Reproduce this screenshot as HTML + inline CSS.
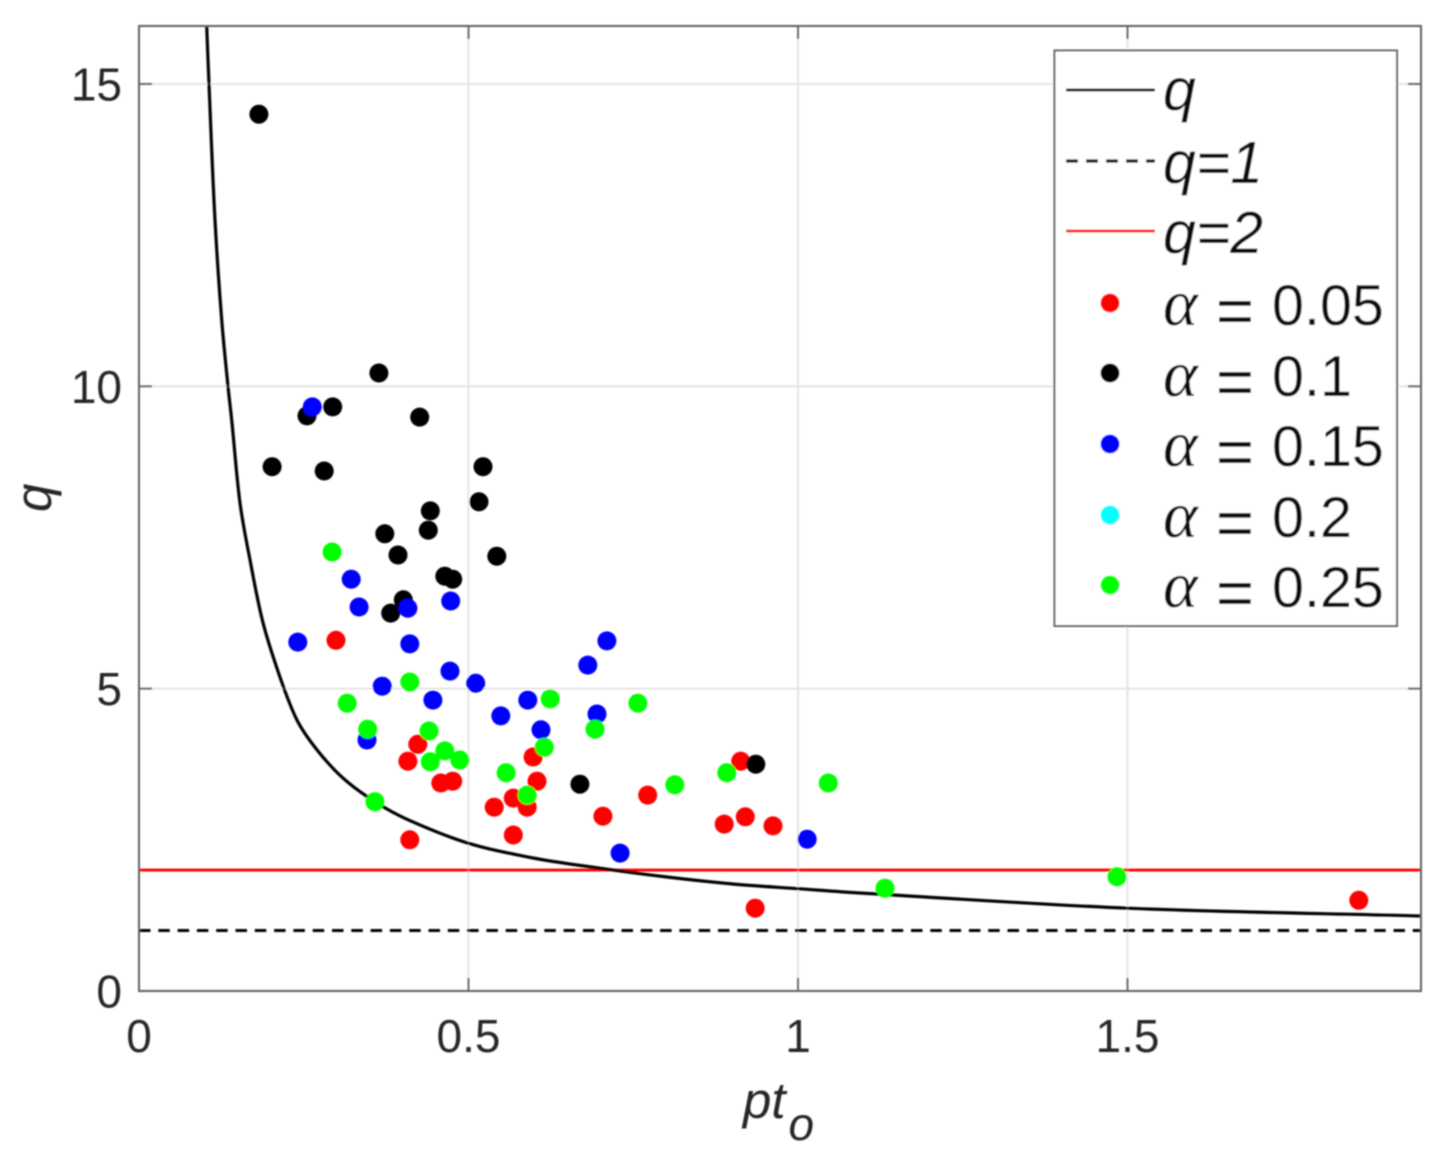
<!DOCTYPE html>
<html lang="en">
<head>
<meta charset="utf-8">
<title>q versus pt_o scatter chart</title>
<style>
  html, body { margin: 0; padding: 0; background: #fff; }
  svg { display: block; }
  .tick-label { font-family: "Liberation Sans", sans-serif; font-size: 46px; fill: #262626; }
  .legend-text { font-family: "Liberation Sans", sans-serif; font-size: 59px; fill: #111; }
  .legend-num { font-family: "Liberation Sans", sans-serif; font-size: 57.5px; fill: #111; }
  .legend-eq { font-family: "Liberation Sans", sans-serif; font-size: 65px; fill: #111; }
  .legend-alpha { font-family: "Liberation Serif", serif; font-style: italic; font-size: 66px; fill: #111; }
  .axis-title { font-family: "Liberation Sans", sans-serif; font-style: italic; font-size: 51px; fill: #262626; }
</style>
</head>
<body>
<svg id="chart" xmlns="http://www.w3.org/2000/svg" width="1451" height="1157" viewBox="0 0 1451 1157">
  <defs>
    <clipPath id="plot-clip"><rect x="139" y="26" width="1282" height="965"></rect></clipPath>
    <filter id="soft" x="-2%" y="-2%" width="104%" height="104%"><feGaussianBlur stdDeviation="0.7"></feGaussianBlur></filter>
  </defs>
  <rect x="0" y="0" width="1451" height="1157" fill="#ffffff"></rect>
  <g filter="url(#soft)">
    <g id="grid"></g>
    <g id="series-lines" clip-path="url(#plot-clip)"></g>
    <g id="points" clip-path="url(#plot-clip)"></g>
    <g id="axes"></g>
    <g id="legend">
      <rect x="1054.5" y="50.5" width="342.5" height="575.5" fill="#ffffff" stroke="#5e5e5e" stroke-width="2"></rect>
      <g>
        <line x1="1066" y1="90" x2="1155" y2="90" stroke="#000" stroke-width="3"></line>
        <text class="legend-text" x="1163" y="110" font-style="italic">q</text>
      </g>
      <g>
        <line x1="1066" y1="161" x2="1155" y2="161" stroke="#000" stroke-width="3.2" stroke-dasharray="12 8"></line>
        <text class="legend-text" x="1163" y="183" font-style="italic">q=1</text>
      </g>
      <g>
        <line x1="1066" y1="231" x2="1155" y2="231" stroke="#ff0000" stroke-width="3"></line>
        <text class="legend-text" x="1163" y="253" font-style="italic">q=2</text>
      </g>
      <g>
        <circle cx="1110" cy="303" r="9.5" fill="#ff0000"></circle>
        <text class="legend-alpha" x="1163" y="325">α</text>
        <text class="legend-eq" x="1216" y="333">=</text>
        <text class="legend-num" x="1272" y="325">0.05</text>
      </g>
      <g>
        <circle cx="1110" cy="373" r="9.5" fill="#000000"></circle>
        <text class="legend-alpha" x="1163" y="396">α</text>
        <text class="legend-eq" x="1216" y="404">=</text>
        <text class="legend-num" x="1272" y="396">0.1</text>
      </g>
      <g>
        <circle cx="1110" cy="444" r="9.5" fill="#0000ff"></circle>
        <text class="legend-alpha" x="1163" y="466">α</text>
        <text class="legend-eq" x="1216" y="474">=</text>
        <text class="legend-num" x="1272" y="466">0.15</text>
      </g>
      <g>
        <circle cx="1110" cy="515" r="9.5" fill="#00ffff"></circle>
        <text class="legend-alpha" x="1163" y="537">α</text>
        <text class="legend-eq" x="1216" y="545">=</text>
        <text class="legend-num" x="1272" y="537">0.2</text>
      </g>
      <g>
        <circle cx="1110" cy="585" r="9.5" fill="#00ff00"></circle>
        <text class="legend-alpha" x="1163" y="607">α</text>
        <text class="legend-eq" x="1216" y="615">=</text>
        <text class="legend-num" x="1272" y="607">0.25</text>
      </g>
    </g>
    <text class="axis-title" transform="translate(51,512) rotate(-90)">q</text>
    <text class="axis-title" x="743" y="1118">pt<tspan font-size="46" dx="3" dy="22">o</tspan></text>
  </g>
</svg>
<script>
var xTicks = [0, 0.5, 1, 1.5];
var xTickLabels = ["0", "0.5", "1", "1.5"];
var yTicks = [0, 5, 10, 15];
var yTickLabels = ["0", "5", "10", "15"];

var curveX = [0.1027, 0.1062, 0.1153, 0.1255, 0.135, 0.1407, 0.1533, 0.1684, 0.1882, 0.214, 0.2398, 0.27, 0.3096, 0.358, 0.4067, 0.4977, 0.598, 0.6995, 0.801, 0.901, 1.003, 1.094, 1.5, 1.945];
var curveQ = [15.96, 15.0, 12.75, 11.1, 10.0, 9.44, 8.07, 7.13, 6.09, 5.19, 4.48, 3.99, 3.52, 3.13, 2.84, 2.45, 2.2, 2.03, 1.885, 1.77, 1.69, 1.62, 1.37, 1.24];

var redX = [0.299, 0.408, 0.423, 0.411, 0.458, 0.476, 0.539, 0.568, 0.589, 0.568, 0.598, 0.604, 0.704, 0.772, 0.888, 0.92, 0.962, 0.913, 0.935, 1.851];
var redY = [5.80, 3.80, 4.08, 2.50, 3.44, 3.47, 3.04, 3.19, 3.04, 2.58, 3.87, 3.47, 2.89, 3.24, 2.76, 2.88, 2.73, 3.80, 1.37, 1.50];

var blackX = [0.182, 0.255, 0.294, 0.364, 0.426, 0.202, 0.281, 0.522, 0.516, 0.442, 0.439, 0.373, 0.393, 0.543, 0.464, 0.476, 0.401, 0.382, 0.669, 0.936];
var blackY = [14.50, 9.51, 9.66, 10.22, 9.49, 8.67, 8.60, 8.67, 8.09, 7.94, 7.62, 7.56, 7.21, 7.19, 6.86, 6.81, 6.47, 6.25, 3.42, 3.75];

var blueX = [0.263, 0.322, 0.334, 0.408, 0.473, 0.241, 0.411, 0.369, 0.472, 0.511, 0.446, 0.549, 0.59, 0.61, 0.695, 0.681, 0.71, 0.73, 1.014, 0.346];
var blueY = [9.66, 6.81, 6.35, 6.33, 6.45, 5.77, 5.74, 5.04, 5.29, 5.09, 4.81, 4.55, 4.81, 4.32, 4.58, 5.39, 5.79, 2.28, 2.51, 4.15];

var greenX = [0.293, 0.411, 0.316, 0.347, 0.44, 0.464, 0.442, 0.487, 0.358, 0.624, 0.757, 0.692, 0.615, 0.557, 0.589, 0.813, 0.892, 1.046, 1.132, 1.484];
var greenY = [7.26, 5.11, 4.76, 4.33, 4.30, 3.97, 3.79, 3.82, 3.13, 4.83, 4.76, 4.33, 4.03, 3.61, 3.24, 3.41, 3.61, 3.44, 1.70, 1.89];

var q1Level = [1];
var q2Level = [2];

var NS = "http://www.w3.org/2000/svg";
var xMax = 1282 / 659;
var yMax = 965 / 60.47;
function sx(v) { return 139 + v / xMax * 1282; }
function sy(v) { return 991 - v / yMax * 965; }

function makeLine(x1, y1, x2, y2, color, width) {
  var l = document.createElementNS(NS, "line");
  l.setAttribute("x1", x1);
  l.setAttribute("y1", y1);
  l.setAttribute("x2", x2);
  l.setAttribute("y2", y2);
  l.setAttribute("stroke", color);
  l.setAttribute("stroke-width", width);
  return l;
}

function smoothPath(xs, ys) {
  var pts = xs.map(function (v, i) { return [sx(v), sy(ys[i])]; });
  var d = "M" + pts[0][0].toFixed(1) + " " + pts[0][1].toFixed(1);
  for (var i = 0; i < pts.length - 1; i++) {
    var p0 = pts[Math.max(i - 1, 0)];
    var p1 = pts[i];
    var p2 = pts[i + 1];
    var p3 = pts[Math.min(i + 2, pts.length - 1)];
    var len = Math.hypot(p2[0] - p1[0], p2[1] - p1[1]);
    var l1 = Math.hypot(p2[0] - p0[0], p2[1] - p0[1]) || 1;
    var l2 = Math.hypot(p3[0] - p1[0], p3[1] - p1[1]) || 1;
    var c1x = p1[0] + (p2[0] - p0[0]) / l1 * len / 3;
    var c1y = p1[1] + (p2[1] - p0[1]) / l1 * len / 3;
    var c2x = p2[0] - (p3[0] - p1[0]) / l2 * len / 3;
    var c2y = p2[1] - (p3[1] - p1[1]) / l2 * len / 3;
    d += "C" + c1x.toFixed(1) + " " + c1y.toFixed(1) + " " + c2x.toFixed(1) + " " + c2y.toFixed(1) + " " + p2[0].toFixed(1) + " " + p2[1].toFixed(1);
  }
  return d;
}

var grid = document.getElementById("grid");
var axes = document.getElementById("axes");
var seriesLines = document.getElementById("series-lines");
var pointsGroup = document.getElementById("points");

xTicks.forEach(function (t, i) {
  var px = sx(t);
  if (t > 0) {
    var g = makeLine(px, 26, px, 991, "#e2e2e2", 1.8);
    
    
    grid.appendChild(g);
  }
  var b = makeLine(px, 991, px, 978, "#5e5e5e", 1.8);
  
  
  axes.appendChild(b);
  var tp = makeLine(px, 26, px, 39, "#5e5e5e", 1.8);
  
  
  axes.appendChild(tp);
  var lab = document.createElementNS(NS, "text");
  
  
  lab.setAttribute("class", "tick-label");
  lab.setAttribute("x", px);
  lab.setAttribute("y", 1052);
  lab.setAttribute("text-anchor", "middle");
  lab.textContent = xTickLabels[i];
  axes.appendChild(lab);
});

yTicks.forEach(function (t, i) {
  var py = sy(t);
  if (t > 0) {
    var g = makeLine(139, py, 1421, py, "#e2e2e2", 1.8);
    
    
    grid.appendChild(g);
  }
  var l = makeLine(139, py, 152, py, "#5e5e5e", 1.8);
  
  
  axes.appendChild(l);
  var r = makeLine(1421, py, 1408, py, "#5e5e5e", 1.8);
  
  
  axes.appendChild(r);
  var lab = document.createElementNS(NS, "text");
  
  
  lab.setAttribute("class", "tick-label");
  lab.setAttribute("x", 122);
  lab.setAttribute("y", py + 16.5);
  lab.setAttribute("text-anchor", "end");
  lab.textContent = yTickLabels[i];
  axes.appendChild(lab);
});

var frame = document.createElementNS(NS, "path");


frame.setAttribute("d", "M139 26H1421V991H139Z");
frame.setAttribute("fill", "none");
frame.setAttribute("stroke", "#5e5e5e");
frame.setAttribute("stroke-width", "2");
axes.appendChild(frame);

var q2Line = makeLine(139, sy(q2Level[0]), 1421, sy(q2Level[0]), "#ff0000", 2.8);


seriesLines.appendChild(q2Line);

var q1Line = makeLine(139, sy(q1Level[0]), 1421, sy(q1Level[0]), "#000000", 3);


q1Line.setAttribute("stroke-dasharray", "11.5 7.8");
seriesLines.appendChild(q1Line);

var curve = document.createElementNS(NS, "path");


curve.setAttribute("d", smoothPath(curveX, curveQ));
curve.setAttribute("fill", "none");
curve.setAttribute("stroke", "#000000");
curve.setAttribute("stroke-width", "3.2");
curve.setAttribute("stroke-linejoin", "round");
seriesLines.appendChild(curve);

function drawPoints(xs, ys, color, name) {
  xs.forEach(function (v, i) {
    var c = document.createElementNS(NS, "circle");
    
    
    c.setAttribute("cx", sx(v).toFixed(1));
    c.setAttribute("cy", sy(ys[i]).toFixed(1));
    c.setAttribute("r", "9.5");
    c.setAttribute("fill", color);
    pointsGroup.appendChild(c);
  });
}
drawPoints(redX, redY, "#ff0000", "point-alpha-0-05");
drawPoints(blackX, blackY, "#000000", "point-alpha-0-1");
drawPoints(blueX, blueY, "#0000ff", "point-alpha-0-15");
drawPoints(greenX, greenY, "#00ff00", "point-alpha-0-25");
</script>
</body>
</html>
